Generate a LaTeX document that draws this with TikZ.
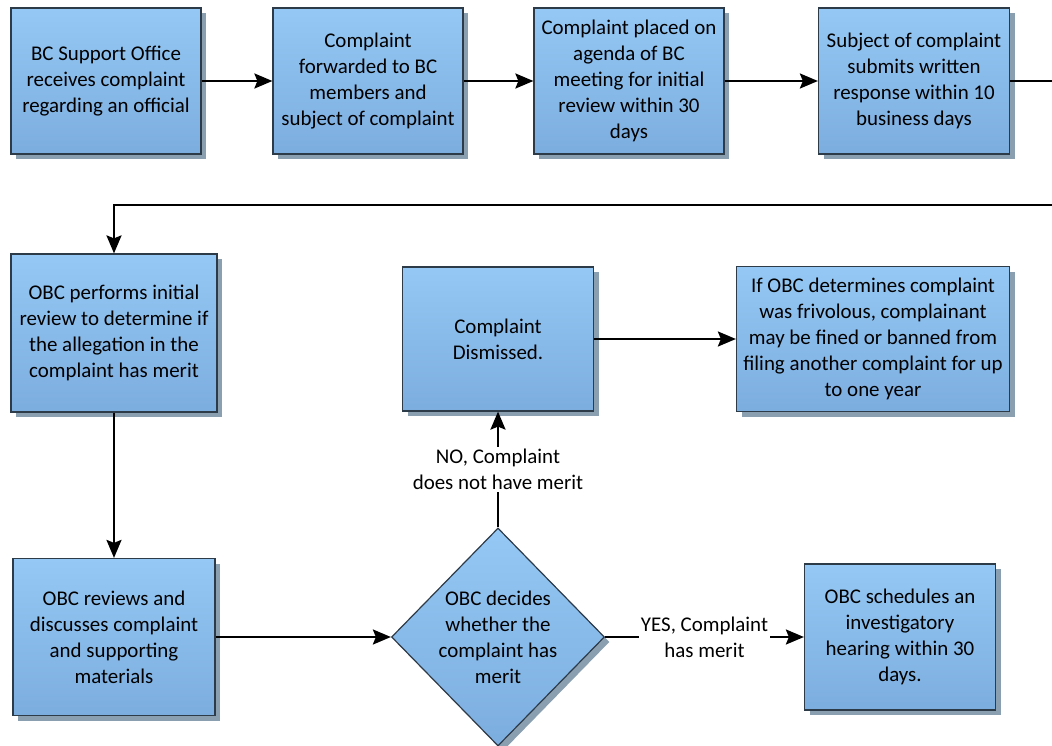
\documentclass[tikz,border=0pt]{standalone}
\usepackage{fontspec}
\setmainfont{Carlito}
\usetikzlibrary{arrows.meta,shapes.geometric,shadows}
\definecolor{boxtop}{RGB}{149,200,244}
\definecolor{boxbot}{RGB}{124,173,223}
\definecolor{boxline}{RGB}{45,58,72}
\definecolor{boxshade}{RGB}{138,160,176}
\tikzset{
  box/.style={rectangle, draw=boxline, line width=1.2bp, top color=boxtop, bottom color=boxbot,
    align=center, inner sep=0pt, font=\fontsize{21}{26}\selectfont,
    drop shadow={shadow xshift=5bp, shadow yshift=-5bp, fill=boxshade, opacity=1}},
  decision/.style={diamond, draw=boxline, line width=1.2bp, top color=boxtop, bottom color=boxbot,
    inner sep=0pt, drop shadow={shadow xshift=5bp, shadow yshift=-5bp, fill=boxshade, opacity=1}},
  flow/.style={line width=2.4bp, -{Stealth[length=18bp, width=15bp, inset=3bp]}},
  lbl/.style={fill=white, align=center, inner sep=2pt, font=\fontsize{21}{26}\selectfont}
}
\begin{document}
\begin{tikzpicture}[x=1bp, y=-1bp]
    \useasboundingbox (0,0) rectangle (1052,746);
    % top row
    \node[box, minimum width=190bp, minimum height=146bp] (intake) at (106,81)
        {BC Support Office\\receives complaint\\regarding an official};
    \node[box, minimum width=190bp, minimum height=146bp] (fwd) at (368,81)
        {Complaint\\forwarded to BC\\members and\\subject of complaint};
    \node[box, minimum width=190bp, minimum height=146bp] (agenda) at (629,81)
        {Complaint placed on\\agenda of BC\\meeting for initial\\review within 30\\days};
    \node[box, minimum width=191bp, minimum height=146bp] (resp) at (914,81)
        {Subject of complaint\\submits written\\response within 10\\business days};
    % middle row
    \node[box, minimum width=206bp, minimum height=158bp] (review) at (114,333)
        {OBC performs initial\\review to determine if\\the allegation in the\\complaint has merit};
    \node[box, minimum width=191bp, minimum height=144bp] (dismiss) at (498,339)
        {Complaint\\Dismissed.};
    \node[box, minimum width=273bp, minimum height=145bp] (frivol) at (873,339)
        {If OBC determines complaint\\was frivolous, complainant\\may be fined or banned from\\filing another complaint for up\\to one year};
    % bottom row
    \node[box, minimum width=202bp, minimum height=157bp] (discuss) at (114,637)
        {OBC reviews and\\discusses complaint\\and supporting\\materials};
    \node[decision, minimum width=213bp, minimum height=218bp] (decide) at (498,637) {};
    \node[align=center, font=\fontsize{21}{26}\selectfont] (decideTxt) at (decide)
        {OBC decides\\whether the\\complaint has\\merit};
    \node[box, minimum width=191bp, minimum height=146bp] (hearing) at (900,637)
        {OBC schedules an\\investigatory\\hearing within 30\\days.};
    % wrap from top row down to second row (turn lies off the page)
    \coordinate (turnA) at (1064,81);
    \coordinate (turnB) at (1064,205);
    % connectors
    \draw[flow] (intake) -- (fwd);
    \draw[flow] (fwd) -- (agenda);
    \draw[flow] (agenda) -- (resp);
    \draw[flow] (resp.east) -- (turnA) -- (turnB) -| (review.north);
    \draw[flow] (review.south) -- (review.south |- discuss.north);
    \draw[flow] (discuss.east) -- (decide.west);
    \draw[flow] (decide.north) -- (decide.north |- dismiss.south)
        node[lbl, pos=0.5] (noLbl) {NO, Complaint\\does not have merit};
    \draw[flow] (decide.east) -- (hearing.west |- decide.east)
        node[lbl, pos=0.5] (yesLbl) {YES, Complaint\\has merit};
    \draw[flow] (dismiss) -- (frivol);
\end{tikzpicture}
\end{document}
